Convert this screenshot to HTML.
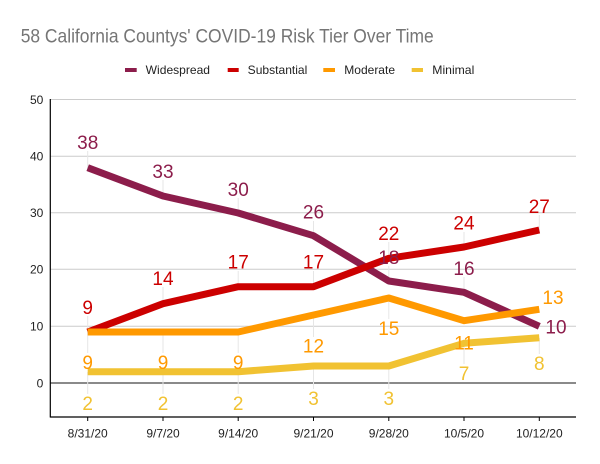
<!DOCTYPE html>
<html><head><meta charset="utf-8"><style>
html,body{margin:0;padding:0;background:#fff;}
svg{display:block;font-family:"Liberation Sans",Arial,sans-serif;}
</style></head><body>
<svg width="600" height="464" viewBox="0 0 600 464" xmlns="http://www.w3.org/2000/svg">
<rect width="600" height="464" fill="#fff"/>
<text x="20.7" y="42.7" font-size="19.5" fill="#757575" textLength="413" lengthAdjust="spacingAndGlyphs">58 California Countys' COVID-19 Risk Tier Over Time</text>
<!-- legend -->
<g font-size="12" fill="#222">
<rect x="125" y="68" width="11.7" height="4" fill="#8c1d4b"/>
<text x="145.7" y="74" textLength="64.3" lengthAdjust="spacingAndGlyphs">Widespread</text>
<rect x="227.7" y="68" width="11" height="4" fill="#cc0000"/>
<text x="247.7" y="74" textLength="59.6" lengthAdjust="spacingAndGlyphs">Substantial</text>
<rect x="323.3" y="68" width="11.7" height="4" fill="#ff9900"/>
<text x="344.3" y="74" textLength="50.7" lengthAdjust="spacingAndGlyphs">Moderate</text>
<rect x="411.7" y="68" width="11.3" height="4" fill="#f1c232"/>
<text x="432.3" y="74" textLength="42" lengthAdjust="spacingAndGlyphs">Minimal</text>
</g>
<!-- gridlines -->
<g stroke="#cccccc" stroke-width="1">
<line x1="50" y1="99.5" x2="576" y2="99.5"/>
<line x1="50" y1="156.3" x2="576" y2="156.3"/>
<line x1="50" y1="212.7" x2="576" y2="212.7"/>
<line x1="50" y1="269.3" x2="576" y2="269.3"/>
<line x1="50" y1="326.3" x2="576" y2="326.3"/>
</g>
<line x1="50" y1="383" x2="576" y2="383" stroke="#444" stroke-width="1.2"/>
<!-- leader lines -->
<g stroke="#e6e6e6" stroke-width="1">
<line x1="87.7" y1="151" x2="87.7" y2="168"/>
<line x1="163" y1="180" x2="163" y2="196"/>
<line x1="238.2" y1="198" x2="238.2" y2="213"/>
<line x1="313.5" y1="221" x2="313.5" y2="236"/>
<line x1="388.8" y1="266" x2="388.8" y2="281"/>
<line x1="464" y1="277" x2="464" y2="292"/>
<line x1="87.7" y1="316" x2="87.7" y2="332"/>
<line x1="163" y1="287" x2="163" y2="304"/>
<line x1="238.2" y1="271" x2="238.2" y2="287"/>
<line x1="313.5" y1="271" x2="313.5" y2="287"/>
<line x1="388.8" y1="242" x2="388.8" y2="258"/>
<line x1="464" y1="232" x2="464" y2="247"/>
<line x1="539.3" y1="215" x2="539.3" y2="230"/>
<line x1="87.7" y1="332" x2="87.7" y2="353"/>
<line x1="163" y1="332" x2="163" y2="353"/>
<line x1="238.2" y1="332" x2="238.2" y2="353"/>
<line x1="313.5" y1="315" x2="313.5" y2="337"/>
<line x1="388.8" y1="298" x2="388.8" y2="319"/>
<line x1="87.7" y1="372" x2="87.7" y2="394"/>
<line x1="163" y1="372" x2="163" y2="394"/>
<line x1="238.2" y1="372" x2="238.2" y2="394"/>
<line x1="313.5" y1="366" x2="313.5" y2="389"/>
<line x1="388.8" y1="366" x2="388.8" y2="389"/>
<line x1="464" y1="343" x2="464" y2="364"/>
<line x1="539.3" y1="338" x2="539.3" y2="354"/>
</g>
<!-- axes -->
<line x1="50.3" y1="99" x2="50.3" y2="417.5" stroke="#000" stroke-width="1.2"/>
<line x1="50" y1="417" x2="576" y2="417" stroke="#000" stroke-width="1.2"/>
<g stroke="#000" stroke-width="1">
<line x1="87.7" y1="417" x2="87.7" y2="421"/>
<line x1="163" y1="417" x2="163" y2="421"/>
<line x1="238.2" y1="417" x2="238.2" y2="421"/>
<line x1="313.5" y1="417" x2="313.5" y2="421"/>
<line x1="388.8" y1="417" x2="388.8" y2="421"/>
<line x1="464" y1="417" x2="464" y2="421"/>
<line x1="539.3" y1="417" x2="539.3" y2="421"/>
</g>
<!-- y labels -->
<g font-size="12" fill="#222" text-anchor="end">
<text x="43.3" y="103.8">50</text>
<text x="43.3" y="160.6">40</text>
<text x="43.3" y="217">30</text>
<text x="43.3" y="273.6">20</text>
<text x="43.3" y="330.6">10</text>
<text x="43.3" y="387.3">0</text>
</g>
<!-- x labels -->
<g font-size="12" fill="#222" text-anchor="middle">
<text x="87.7" y="437.5">8/31/20</text>
<text x="163" y="437.5">9/7/20</text>
<text x="238.2" y="437.5">9/14/20</text>
<text x="313.5" y="437.5">9/21/20</text>
<text x="388.8" y="437.5">9/28/20</text>
<text x="464" y="437.5">10/5/20</text>
<text x="539.3" y="437.5">10/12/20</text>
</g>
<!-- series -->
<g fill="none" stroke-width="7" stroke-linejoin="round">
<polyline stroke="#8c1d4b" points="87.7,167.7 163,196 238.2,213 313.5,235.7 388.8,281 464,292.3 539.3,326.3"/>
<polyline stroke="#cc0000" points="87.7,332 163,303.7 238.2,286.7 313.5,286.7 388.8,258.3 464,247 539.3,230"/>
<polyline stroke="#ff9900" points="87.7,332 163,332 238.2,332 313.5,315 388.8,298 464,320.7 539.3,309.3"/>
<polyline stroke="#f1c232" points="87.7,371.7 163,371.7 238.2,371.7 313.5,366 388.8,366 464,343.3 539.3,337.7"/>
</g>
<!-- data labels -->
<g font-size="19" text-anchor="middle">
<g fill="#8c1d4b">
<text x="87.7" y="148.8">38</text>
<text x="163" y="177.8">33</text>
<text x="238.2" y="195.8">30</text>
<text x="313.5" y="218.5">26</text>
<text x="388.8" y="263.8">18</text>
<text x="464" y="274.8">16</text>
<text x="556" y="333.5">10</text>
</g>
<g fill="#cc0000">
<text x="87.7" y="313.8">9</text>
<text x="163" y="284.8">14</text>
<text x="238.2" y="268.5">17</text>
<text x="313.5" y="268.5">17</text>
<text x="388.8" y="239.8">22</text>
<text x="464" y="229.5">24</text>
<text x="539.3" y="212.8">27</text>
</g>
<g fill="#ff9900">
<text x="87.7" y="368.8">9</text>
<text x="163" y="368.8">9</text>
<text x="238.2" y="368.8">9</text>
<text x="313.5" y="352.5">12</text>
<text x="388.8" y="334.8">15</text>
<text x="464" y="349.5">11</text>
<text x="553" y="304.1">13</text>
</g>
<g fill="#f1c232">
<text x="87.7" y="409.8">2</text>
<text x="163" y="409.8">2</text>
<text x="238.2" y="409.8">2</text>
<text x="313.5" y="404.8">3</text>
<text x="388.8" y="404.8">3</text>
<text x="464" y="379.8">7</text>
<text x="539.3" y="370.1">8</text>
</g>
</g>
</svg>
</body></html>
